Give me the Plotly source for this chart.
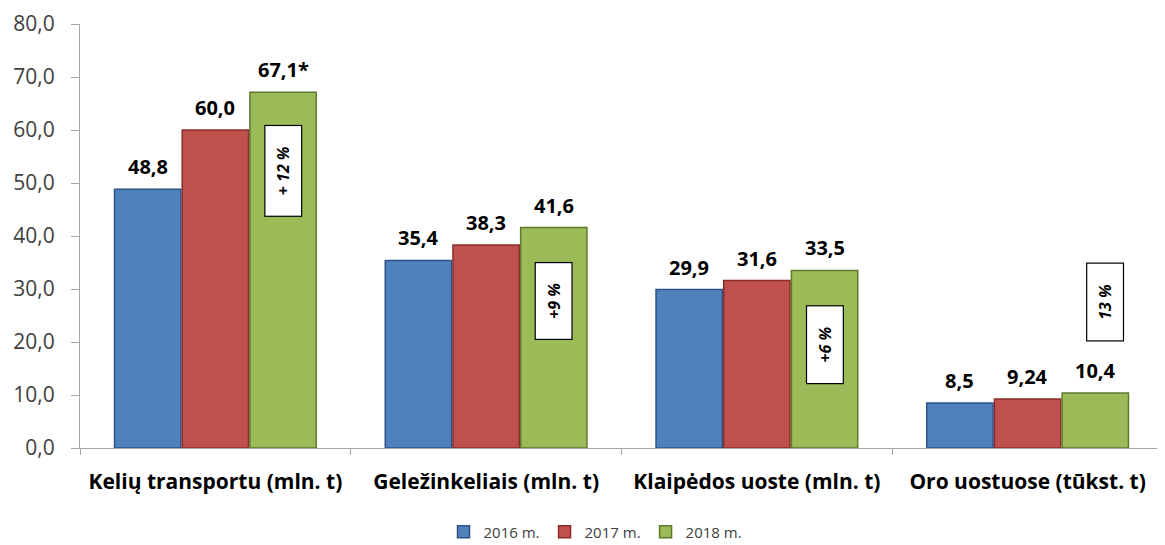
import plotly.graph_objects as go

categories = ["Kelių transportu (mln. t)", "Geležinkeliais (mln. t)",
              "Klaipėdos uoste (mln. t)", "Oro uostuose (tūkst. t)"]
series_names = ["2016 m.", "2017 m.", "2018 m."]
v2016 = [48.8, 35.4, 29.9, 8.5]
v2017 = [60.0, 38.3, 31.6, 9.24]
v2018 = [67.1, 41.6, 33.5, 10.4]
labels2016 = ["48,8", "35,4", "29,9", "8,5"]
labels2017 = ["60,0", "38,3", "31,6", "9,24"]
labels2018 = ["67,1*", "41,6", "33,5", "10,4"]
growth_text = ["+ 12 %", "+9 %", "+6 %", "13 %"]
growth_y = [52.3, 27.7, 19.5, 27.6]
growth_xoff = [0.25, 0.25, 0.25, 0.285]
growth_len = [90, 76, 77, 77]
yticks = [0, 10, 20, 30, 40, 50, 60, 70, 80]
ytick_labels = ["0,0", "10,0", "20,0", "30,0", "40,0", "50,0", "60,0", "70,0", "80,0"]

colors = ["#4F81BD", "#C0504D", "#9BBB59"]
edges = ["#2E5487", "#8B2E2B", "#5F7A2C"]
FONT = "Open Sans"
BARGAP = 0.25

series_vals = [v2016, v2017, v2018]
series_labels = [labels2016, labels2017, labels2018]

fig = go.Figure()
for name, vals, c, e in zip(series_names, series_vals, colors, edges):
    fig.add_trace(go.Bar(
        name=name, x=categories, y=vals,
        marker=dict(color=c, line=dict(color=e, width=1.5)),
    ))

# value labels above each bar (positioned from the group layout)
n = len(series_names)
slot = (1 - BARGAP) / n
for j, (vals, labs) in enumerate(zip(series_vals, series_labels)):
    for i, (v, lab) in enumerate(zip(vals, labs)):
        fig.add_annotation(
            x=i + (j - (n - 1) / 2) * slot, y=v, xref="x", yref="y",
            text="<b>" + lab + "</b>", showarrow=False,
            yanchor="bottom", yshift=7,
            font=dict(family=FONT, size=20, color="#000000"),
        )

for i, (t, yv, xo, ln) in enumerate(zip(growth_text, growth_y, growth_xoff, growth_len)):
    fig.add_annotation(
        x=i + xo, y=yv, xref="x", yref="y", text="<b><i>" + t + "</i></b>",
        showarrow=False, textangle=-90,
        font=dict(family=FONT, size=16, color="#000000"),
        bgcolor="#FFFFFF", bordercolor="#000000", borderwidth=1.2,
        width=ln, height=36, borderpad=0,
    )

fig.update_layout(
    width=1165, height=545,
    margin=dict(l=72, r=10, t=16, b=105, autoexpand=False),
    paper_bgcolor="#FFFFFF", plot_bgcolor="#FFFFFF",
    barmode="group", bargap=BARGAP, bargroupgap=0.02,
    showlegend=True,
    legend=dict(orientation="h", x=0.476, xanchor="center", y=-0.198, yanchor="middle",
                font=dict(family=FONT, size=15, color="#404040"),
                itemwidth=30, traceorder="normal"),
    font=dict(family=FONT),
)
fig.update_xaxes(
    type="category", automargin=False,
    tickfont=dict(family=FONT, size=21, color="#000000", weight="bold"),
    showline=True, linecolor="#A6A6A6", linewidth=1.2,
    ticks="outside", tickson="boundaries", ticklen=6, tickcolor="#A6A6A6",
    ticklabelstandoff=15,
    showgrid=False, zeroline=False,
)
fig.update_yaxes(
    range=[0, 80], tickmode="array", tickvals=yticks, ticktext=ytick_labels,
    automargin=False,
    tickfont=dict(family=FONT, size=21, color="#404040"),
    showline=True, linecolor="#A6A6A6", linewidth=1.2,
    ticks="outside", ticklen=8, tickcolor="#A6A6A6",
    ticklabelstandoff=12,
    showgrid=False, zeroline=False,
)
fig.write_html("out.html")
